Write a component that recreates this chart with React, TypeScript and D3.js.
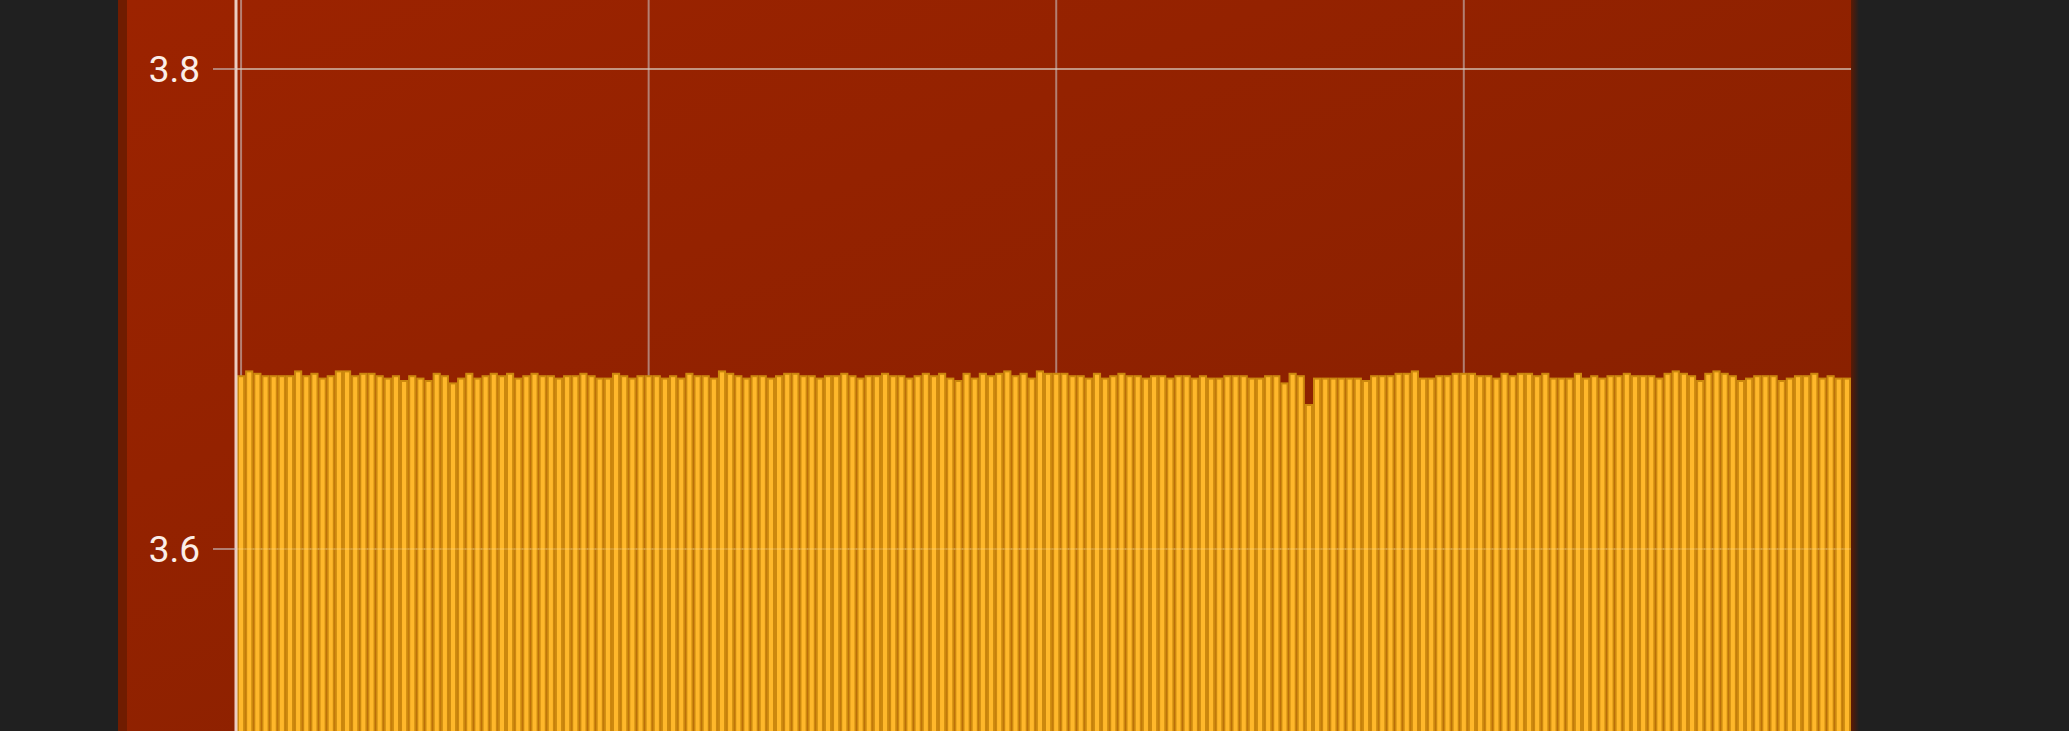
import React from 'react';
// d3 v7
import * as d3 from 'd3';

// bar values (0.001 steps)
const VALUES: number[] = [
  3.672, 3.674, 3.673, 3.672, 3.672, 3.672, 3.672, 3.674, 3.672, 3.673,
  3.671, 3.672, 3.674, 3.674, 3.672, 3.673, 3.673, 3.672, 3.671, 3.672,
  3.670, 3.672, 3.671, 3.670, 3.673, 3.672, 3.669, 3.671, 3.673, 3.671,
  3.672, 3.673, 3.672, 3.673, 3.671, 3.672, 3.673, 3.672, 3.672, 3.671,
  3.672, 3.672, 3.673, 3.672, 3.671, 3.671, 3.673, 3.672, 3.671, 3.672,
  3.672, 3.672, 3.671, 3.672, 3.671, 3.673, 3.672, 3.672, 3.671, 3.674,
  3.673, 3.672, 3.671, 3.672, 3.672, 3.671, 3.672, 3.673, 3.673, 3.672,
  3.672, 3.671, 3.672, 3.672, 3.673, 3.672, 3.671, 3.672, 3.672, 3.673,
  3.672, 3.672, 3.671, 3.672, 3.673, 3.672, 3.673, 3.671, 3.670, 3.673,
  3.671, 3.673, 3.672, 3.673, 3.674, 3.672, 3.673, 3.671, 3.674, 3.673,
  3.673, 3.673, 3.672, 3.672, 3.671, 3.673, 3.671, 3.672, 3.673, 3.672,
  3.672, 3.671, 3.672, 3.672, 3.671, 3.672, 3.672, 3.671, 3.672, 3.671,
  3.671, 3.672, 3.672, 3.672, 3.671, 3.671, 3.672, 3.672, 3.669, 3.673,
  3.672, 3.660, 3.671, 3.671, 3.671, 3.671, 3.671, 3.671, 3.670, 3.672,
  3.672, 3.672, 3.673, 3.673, 3.674, 3.671, 3.671, 3.672, 3.672, 3.673,
  3.673, 3.673, 3.672, 3.672, 3.671, 3.673, 3.672, 3.673, 3.673, 3.672,
  3.673, 3.671, 3.671, 3.671, 3.673, 3.671, 3.672, 3.671, 3.672, 3.672,
  3.673, 3.672, 3.672, 3.672, 3.671, 3.673, 3.674, 3.673, 3.672, 3.670,
  3.673, 3.674, 3.673, 3.672, 3.670, 3.671, 3.672, 3.672, 3.672, 3.670,
  3.671, 3.672, 3.672, 3.673, 3.671, 3.672, 3.671, 3.671,
];
const CATEGORIES: number[] = VALUES.map((_, i) => i);
const Y_TICKS: number[] = [3.6, 3.8];
const X_GRID: number[] = [0, 50, 100, 150];

const W = 2069;
const H = 731;
const GRID = 'rgba(200,190,190,0.6)';

export default function App() {
  const x = d3.scaleBand<number>().domain(CATEGORIES).range([237, 1851]).padding(0);
  const y = d3.scaleLinear().domain([3.6, 3.8]).range([549, 69]);
  const base = 3.4; // below the visible crop
  const bw = x.bandwidth();

  return (
    <div style={{ position: 'fixed', left: 0, top: 0 }}>
      <svg width={W} height={H} style={{ display: 'block' }}>
        <defs>
          <linearGradient id="panel" x1="0" y1="0" x2="1" y2="1">
            <stop offset="0%" stopColor="#9c2300" />
            <stop offset="100%" stopColor="#842000" />
          </linearGradient>
          <linearGradient id="rshadow" x1="0" y1="0" x2="1" y2="0">
            <stop offset="0%" stopColor="#5c1a04" />
            <stop offset="100%" stopColor="#202020" />
          </linearGradient>
          <clipPath id="clip">
            <rect x={0} y={0} width={W} height={H} />
          </clipPath>
        </defs>
        <rect x={0} y={0} width={W} height={H} fill="#202020" />
        <rect x={118} y={0} width={9} height={H} fill="#701c00" />
        <rect x={1851} y={0} width={8} height={H} fill="url(#rshadow)" />
        <rect x={127} y={0} width={1724} height={H} fill="url(#panel)" />

        {/* grid behind bars */}
        <g>
          {X_GRID.map(i => (
            <line key={i} x1={(x(i) ?? 0) + bw / 2} x2={(x(i) ?? 0) + bw / 2} y1={0} y2={H}
              stroke={GRID} strokeWidth={2} />
          ))}
          {Y_TICKS.map(t => (
            <line key={t} x1={237} x2={1851} y1={y(t)} y2={y(t)}
              stroke={GRID} strokeWidth={2} />
          ))}
        </g>

        <g clipPath="url(#clip)">
          {VALUES.map((v, i) => (
            <rect key={i}
              x={(x(i) ?? 0) + 1}
              y={y(v)}
              width={bw - 2}
              height={y(base) - y(v)}
              fill="#ffb82b"
              stroke="#cc880e"
              strokeWidth={2}
            />
          ))}
        </g>

        {/* faint horizontal grid over bars */}
        {Y_TICKS.map(t => (
          <line key={'o' + t} x1={237} x2={1851} y1={y(t)} y2={y(t)}
            stroke="rgba(255,235,190,0.25)" strokeWidth={1.5} />
        ))}

        {/* y axis */}
        <line x1={236} x2={236} y1={0} y2={H} stroke="#eccdc2" strokeWidth={3} />
        {Y_TICKS.map(t => (
          <g key={'t' + t}>
            <line x1={213} x2={236} y1={y(t)} y2={y(t)} stroke={GRID} strokeWidth={2} />
            <text x={200} y={y(t)} dy="0.36em" textAnchor="end"
              fontFamily="Roboto, 'Noto Sans', sans-serif" fontSize={37} fill="#fbeee8">
              {d3.format('.1f')(t)}
            </text>
          </g>
        ))}
      </svg>
    </div>
  );
}
